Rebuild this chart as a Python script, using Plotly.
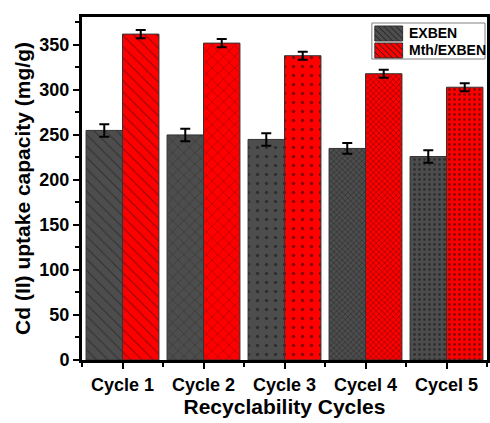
import plotly.graph_objects as go

categories = ["Cycle 1", "Cycle 2", "Cycle 3", "Cycel 4", "Cycel 5"]
exben = [255, 250, 245, 235, 226]
exben_err = [7, 7, 7, 6, 7]
mth_exben = [362, 352, 338, 318, 303]
mth_err = [4.5, 4.5, 4.5, 4.5, 4.5]
y_ticks = [0, 50, 100, 150, 200, 250, 300, 350]
series_names = ["EXBEN", "Mth/EXBEN"]
series_colors = ["#4d4d4d", "#ff0000"]

xpos = list(range(len(categories)))
shapes = ["\\", "x", ".", "x", "."]
sizes = [8, 8, 9, 4, 5]
solid = [0.12, 0.12, 0.12, 0.3, 0.25]

FONT = "Liberation Sans, Arial, sans-serif"
W, H = 490, 423
ML, MR, MT, MB = 82, 0, 17, 63
PW, PH = W - ML - MR, H - MT - MB


def px(x):
    return (x - ML) / PW


def py(y):
    return (H - MB - y) / PH


fig = go.Figure()
for name, color, vals, errs in [(series_names[0], series_colors[0], exben, exben_err),
                                (series_names[1], series_colors[1], mth_exben, mth_err)]:
    fig.add_trace(go.Bar(
        x=xpos, y=vals, name=name, showlegend=False,
        marker=dict(color=color, line=dict(color="#333333", width=1),
                    pattern=dict(shape=shapes, size=sizes, solidity=solid,
                                 fgcolor="#111111", fillmode="overlay")),
        error_y=dict(type="data", array=errs, color="black", thickness=2, width=5),
    ))

# custom legend (box, hatched swatches, labels)
layout_shapes = [dict(type="rect", xref="paper", yref="paper",
                      x0=px(374), x1=px(488), y0=py(59), y1=py(23),
                      line=dict(color="#808080", width=1), fillcolor="white")]
annotations = []
rows = [(26, 41), (43, 58)]
ix0, ix1 = 377, 405
for (ry0, ry1), name, color in zip(rows, series_names, series_colors):
    layout_shapes.append(dict(type="rect", xref="paper", yref="paper",
                              x0=px(ix0), x1=px(ix1), y0=py(ry1), y1=py(ry0),
                              line=dict(color="#333333", width=1), fillcolor=color))
    segs = []
    h = ry1 - ry0
    c = ix0 - h
    while c < ix1:
        xa, ya = c, ry0
        xb, yb = c + h, ry1
        if xa < ix0:
            ya += ix0 - xa
            xa = ix0
        if xb > ix1:
            yb -= xb - ix1
            xb = ix1
        if xb > xa:
            segs.append(f"M{px(xa)},{py(ya)} L{px(xb)},{py(yb)}")
        c += 6
    layout_shapes.append(dict(type="path", xref="paper", yref="paper",
                              path=" ".join(segs), line=dict(color="#222222", width=1)))
    annotations.append(dict(xref="paper", yref="paper", x=px(409), y=py((ry0 + ry1) / 2),
                            xanchor="left", yanchor="middle", showarrow=False, text=name,
                            font=dict(size=14, family=FONT, weight="bold", color="black")))

fig.update_layout(
    width=W, height=H,
    margin=dict(l=ML, r=MR, t=MT, b=MB),
    barmode="group", bargap=0.1, bargroupgap=0,
    plot_bgcolor="white", paper_bgcolor="white",
    font=dict(family=FONT, color="black"),
    showlegend=False,
    shapes=layout_shapes,
    annotations=annotations,
    xaxis=dict(
        range=[-0.5, 4.5], tickmode="array", tickvals=xpos, ticktext=categories,
        showline=True, linecolor="black", linewidth=3, mirror=True,
        ticks="outside", ticklen=6, tickwidth=2, tickcolor="black",
        tickfont=dict(size=18, weight="bold"),
        minor=dict(tick0=0.5, dtick=1, ticks="outside", ticklen=4, tickwidth=2, tickcolor="black"),
        showgrid=False, zeroline=False,
        title=dict(text="Recyclability Cycles", font=dict(size=21, weight="bold"), standoff=6),
    ),
    yaxis=dict(
        range=[0, 381], tickmode="array", tickvals=y_ticks,
        showline=True, linecolor="black", linewidth=3, mirror=True,
        ticks="outside", ticklen=6, tickwidth=2, tickcolor="black",
        tickfont=dict(size=18, weight="bold"),
        minor=dict(dtick=25, ticks="outside", ticklen=4, tickwidth=2, tickcolor="black"),
        showgrid=False, zeroline=False,
        title=dict(text="Cd (II) uptake capacity (mg/g)", font=dict(size=21, weight="bold"), standoff=4),
    ),
)

fig.write_html("out.html")
